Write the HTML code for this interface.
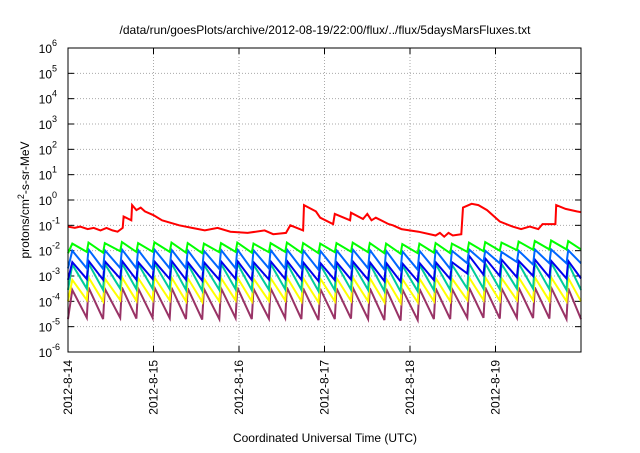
<!DOCTYPE html>
<html><head><meta charset="utf-8"><style>
body{margin:0;background:#fff;font-family:"Liberation Sans",sans-serif}
</style></head><body>
<svg id="c" width="640" height="448" xmlns="http://www.w3.org/2000/svg" font-family="Liberation Sans, sans-serif"></svg>
<script>
const dayLabels=["2012-8-14","2012-8-15","2012-8-16","2012-8-17","2012-8-18","2012-8-19"];
const decadeExps=[-6,-5,-4,-3,-2,-1,0,1,2,3,4,5,6];
const peakTimes=[0.04,0.23,0.42,0.62,0.81,1.0,1.2,1.39,1.58,1.78,1.97,2.16,2.36,2.55,2.74,2.94,3.13,3.32,3.52,3.71,3.9,4.1,4.29,4.48,4.68,4.87,5.06,5.26,5.45,5.64,5.84];
const greenPeak=[-1.72,-1.68,-1.7,-1.66,-1.7,-1.67,-1.68,-1.7,-1.72,-1.7,-1.68,-1.72,-1.7,-1.68,-1.7,-1.72,-1.7,-1.68,-1.7,-1.72,-1.74,-1.72,-1.7,-1.72,-1.68,-1.66,-1.68,-1.64,-1.62,-1.6,-1.62];
const greenLow=[-2.1,-2.05,-2.08,-2.02,-2.05,-2.04,-2.05,-2.08,-2.1,-2.06,-2.05,-2.08,-2.06,-2.05,-2.08,-2.1,-2.06,-2.04,-2.06,-2.1,-2.12,-2.1,-2.08,-2.1,-2.05,-2.02,-2.0,-1.98,-1.96,-1.95,-1.95];
const lblueLow=[-2.7,-2.7,-2.72,-2.68,-2.7,-2.72,-2.7,-2.7,-2.75,-2.72,-2.7,-2.74,-2.7,-2.72,-2.7,-2.75,-2.72,-2.7,-2.7,-2.75,-2.78,-2.75,-2.7,-2.72,-2.5,-2.45,-2.5,-2.45,-2.55,-2.5,-2.5];
const lbluePeak=[-2.0,-1.95,-1.98,-1.95,-1.97,-1.95,-1.96,-1.98,-2.0,-1.97,-1.95,-1.98,-1.97,-1.95,-1.98,-2.0,-1.98,-1.95,-1.97,-2.0,-2.02,-2.0,-1.98,-2.0,-1.95,-2.0,-2.05,-2.0,-1.95,-1.95,-1.98];
const bluePeak=[-2.45,-2.4,-2.42,-2.4,-2.45,-2.42,-2.4,-2.45,-2.45,-2.42,-2.4,-2.45,-2.42,-2.4,-2.45,-2.48,-2.45,-2.42,-2.45,-2.48,-2.5,-2.48,-2.45,-2.45,-2.2,-2.3,-2.35,-2.4,-2.35,-2.4,-2.4];
const blueLow=[-3.15,-3.12,-3.15,-3.1,-3.15,-3.12,-3.12,-3.15,-3.18,-3.15,-3.12,-3.16,-3.14,-3.12,-3.15,-3.2,-3.16,-3.14,-3.15,-3.2,-3.22,-3.2,-3.16,-3.12,-2.9,-2.95,-3.0,-3.05,-3.0,-3.05,-3.1];
const tealPeak=[-2.55,-2.5,-2.52,-2.5,-2.52,-2.5,-2.5,-2.52,-2.55,-2.52,-2.5,-2.55,-2.52,-2.5,-2.52,-2.55,-2.52,-2.5,-2.52,-2.55,-2.58,-2.55,-2.52,-2.55,-2.5,-2.5,-2.52,-2.5,-2.5,-2.48,-2.5];
const tealLow=[-3.55,-3.5,-3.55,-3.5,-3.52,-3.5,-3.52,-3.55,-3.58,-3.55,-3.52,-3.56,-3.54,-3.52,-3.55,-3.6,-3.56,-3.54,-3.55,-3.6,-3.62,-3.6,-3.56,-3.55,-3.5,-3.5,-3.52,-3.5,-3.5,-3.52,-3.55];
const yellowPeak=[-3.15,-3.05,-3.1,-3.05,-3.08,-3.05,-3.06,-3.08,-3.1,-3.08,-3.05,-3.1,-3.08,-3.05,-3.08,-3.1,-3.08,-3.05,-3.08,-3.1,-3.12,-3.1,-3.08,-3.1,-3.05,-3.05,-3.08,-3.05,-3.05,-3.05,-3.08];
const yellowLow=[-4.0,-3.95,-4.0,-3.95,-3.98,-3.95,-3.96,-4.0,-4.02,-4.0,-3.96,-4.0,-3.98,-3.96,-4.0,-4.04,-4.0,-3.98,-4.0,-4.04,-4.06,-4.04,-4.0,-4.0,-3.95,-3.95,-3.98,-3.95,-3.96,-3.98,-4.0];
const purplePeak=[-3.55,-3.45,-3.5,-3.45,-3.48,-3.45,-3.46,-3.48,-3.5,-3.48,-3.45,-3.5,-3.48,-3.45,-3.48,-3.5,-3.48,-3.45,-3.48,-3.5,-3.52,-3.5,-3.48,-3.5,-3.45,-3.45,-3.48,-3.45,-3.45,-3.45,-3.48];
const purpleLow=[-4.7,-4.65,-4.7,-4.65,-4.68,-4.65,-4.66,-4.7,-4.72,-4.7,-4.66,-4.7,-4.68,-4.66,-4.7,-4.74,-4.7,-4.68,-4.7,-4.74,-4.76,-4.74,-4.7,-4.7,-4.65,-4.65,-4.68,-4.65,-4.66,-4.68,-4.7];
const redT=[0,0.08,0.14,0.23,0.3,0.38,0.45,0.52,0.58,0.64,0.65,0.74,0.75,0.8,0.85,0.9,1.0,1.1,1.2,1.3,1.45,1.6,1.75,1.9,2.1,2.3,2.4,2.55,2.6,2.75,2.76,2.9,2.95,3.1,3.12,3.3,3.31,3.45,3.5,3.55,3.6,3.75,3.8,3.9,4.1,4.3,4.35,4.4,4.45,4.5,4.6,4.62,4.72,4.8,4.9,5.05,5.2,5.3,5.4,5.5,5.55,5.7,5.71,5.82,5.95,6.0];
const redV=[-1.05,-1.1,-1.05,-1.15,-1.1,-1.2,-1.1,-1.2,-1.25,-1.1,-0.65,-0.8,-0.2,-0.4,-0.3,-0.45,-0.6,-0.8,-0.9,-1.0,-1.1,-1.2,-1.1,-1.25,-1.3,-1.2,-1.35,-1.3,-1.0,-1.2,-0.2,-0.45,-0.7,-0.95,-0.55,-0.8,-0.5,-0.75,-0.55,-0.8,-0.7,-0.95,-1.0,-1.15,-1.25,-1.4,-1.3,-1.45,-1.3,-1.4,-1.35,-0.3,-0.15,-0.2,-0.4,-0.85,-1.05,-1.15,-1.05,-1.15,-0.95,-0.95,-0.2,-0.35,-0.45,-0.48];
const X0=68,X1=581,Y0=48,Y1=352;
const xs=d=>X0+d/6*(X1-X0);
const ys=l=>Y1-(l+6)/12*(Y1-Y0);
const svg=document.getElementById('c');const NS='http://www.w3.org/2000/svg';
function mk(tag,at,txt){const e=document.createElementNS(NS,tag);for(const k in at)e.setAttribute(k,at[k]);if(txt!=null)e.textContent=txt;svg.appendChild(e);return e;}
let e;
e=mk('text',{x:325,y:34,'font-size':12,'text-anchor':'middle'},'/data/run/goesPlots/archive/2012-08-19/22:00/flux/../flux/5daysMarsFluxes.txt');

decadeExps.forEach(p=>{const y=ys(p);
 if(p>-6&&p<6){e=mk('line',{x1:X0,x2:X1,y1:y,y2:y,stroke:'#aaa','stroke-dasharray':'1,2','stroke-width':1});
 }
 mk('line',{x1:X0,x2:X0+6,y1:y,y2:y,stroke:'#000'});mk('line',{x1:X1-6,x2:X1,y1:y,y2:y,stroke:'#000'});
 e=mk('text',{x:52,y:y+5,'font-size':12,'text-anchor':'end'},'10');
 
 const s=mk('text',{x:52,y:y-2,'font-size':9,'text-anchor':'start'},String(p));
 
});
dayLabels.forEach((lab,i)=>{const x=xs(i);
 if(i>0){e=mk('line',{x1:x,x2:x,y1:Y0,y2:Y1,stroke:'#aaa','stroke-dasharray':'1,2'});
 }
 mk('line',{x1:x,x2:x,y1:Y1,y2:Y1-6,stroke:'#000'});mk('line',{x1:x,x2:x,y1:Y0,y2:Y0+6,stroke:'#000'});
 e=mk('text',{x:0,y:0,'font-size':12,'text-anchor':'end',transform:`translate(${x+4},360) rotate(-90)`},lab);
 
});
function saw(peak,low,color,name){let pts=[];
 peakTimes.forEach((t,i)=>{pts.push([t-0.01,low[i]]);pts.push([t+0.01,peak[i]]);});
 pts.push([6,low[low.length-1]]);
 pts[0][0]=0;
 e=mk('polyline',{points:pts.map(p=>xs(p[0]).toFixed(1)+','+ys(p[1]).toFixed(1)).join(' '),fill:'none',stroke:color,'stroke-width':2});
 }
saw(purplePeak,purpleLow,'#993366','series-purple');
saw(yellowPeak,yellowLow,'#ffff00','series-yellow');
saw(tealPeak,tealLow,'#00cc99','series-teal');
saw(bluePeak,blueLow,'#0000ee','series-blue');
saw(lbluePeak,lblueLow,'#0066ff','series-light-blue');
saw(greenPeak,greenLow,'#00ff00','series-green');
e=mk('polyline',{points:redT.map((t,i)=>xs(t).toFixed(1)+','+ys(redV[i]).toFixed(1)).join(' '),fill:'none',stroke:'#ff0000','stroke-width':2});

e=mk('rect',{x:X0,y:Y0,width:X1-X0,height:Y1-Y0,fill:'none',stroke:'#000','stroke-width':1});

e=mk('text',{x:325,y:442,'font-size':12,'text-anchor':'middle'},'Coordinated Universal Time (UTC)');

e=mk('text',{x:0,y:0,'font-size':12,'text-anchor':'middle',transform:'translate(29,200) rotate(-90)'});

e.innerHTML='protons/cm<tspan dy="-5" font-size="9">2</tspan><tspan dy="5">-s-sr-MeV</tspan>';
</script>
</body></html>
